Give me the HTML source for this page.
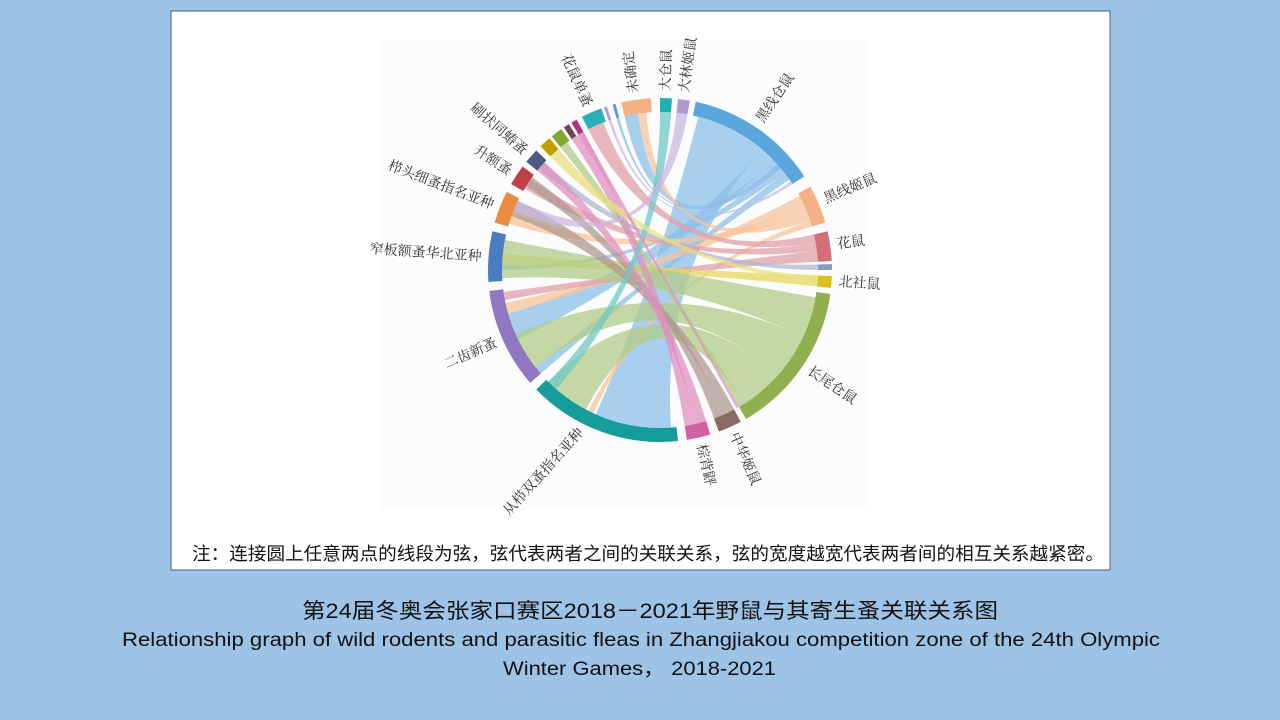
<!DOCTYPE html>
<html><head><meta charset="utf-8"><style>
html,body{margin:0;padding:0;background:#9dc3e6;}
svg{display:block}
</style></head><body>
<svg id="s" width="1280" height="720" viewBox="0 0 1280 720" xmlns="http://www.w3.org/2000/svg">
<rect width="1280" height="720" fill="#9dc3e6"/>
<rect x="171" y="11" width="939" height="559" fill="#fff" stroke="#41628f" stroke-width="1"/>
<rect x="380" y="40" width="490" height="470" fill="#fcfcfc"/>
<g id="chords"></g>
<g id="arcs"></g>
<g id="labels" font-family="'Liberation Serif','Noto Serif CJK SC',serif" font-size="14" fill="#333"></g>
<text x="192" y="560" font-family="'Liberation Sans','Noto Sans CJK SC',sans-serif" font-size="18" fill="#111" textLength="912" lengthAdjust="spacingAndGlyphs">注：连接圆上任意两点的线段为弦，弦代表两者之间的关联关系，弦的宽度越宽代表两者间的相互关系越紧密。</text>
<g font-family="'Liberation Sans','Noto Sans CJK SC',sans-serif" fill="#111">
<text x="302" y="618" font-size="21" textLength="696" lengthAdjust="spacingAndGlyphs">第24届冬奥会张家口赛区2018－2021年野鼠与其寄生蚤关联关系图</text>
<text x="122" y="646" font-size="19" textLength="1038" lengthAdjust="spacingAndGlyphs">Relationship graph of wild rodents and parasitic fleas in Zhangjiakou competition zone of the 24th Olympic</text>
<text x="503" y="675" font-size="19" textLength="273" lengthAdjust="spacingAndGlyphs">Winter Games，  2018-2021</text>
</g>
</svg>
<script>
var cx=660,cy=270,R1=158,R2=172,NS="http://www.w3.org/2000/svg";
function pt(a,r){var t=(a-90)*Math.PI/180;return [cx+r*Math.cos(t),cy+r*Math.sin(t)];}
function el(tag,at,par){var e=document.createElementNS(NS,tag);for(var k in at)e.setAttribute(k,at[k]);document.getElementById(par).appendChild(e);return e;}
var arcs=[[12,57,"#5ba6dd"],[61,74,"#f4b183"],[77,87,"#d2707a"],[88,90,"#8a9ab8"],[92,96,"#d9c020"],[98,150,"#8fb04e"],[152,160,"#8c6a64"],[163,171,"#d060a0"],[174,226,"#179c9c"],[229,263,"#9078c0"],[266,283,"#4a7cc4"],[286,297,"#ec8a40"],[300,307,"#c0404a"],[309,314,"#4a5a80"],[316,320,"#c0a000"],[321,325,"#80a830"],[326,328,"#704850"],[329,331,"#b03080"],[333,340,"#2ab0b8"],[341,342,"#b0a0d8"],[344,345,"#5a9ae0"],[347,357,"#f4b183"],[0,4,"#20b0b0"],[6,10,"#b098d0"]];
arcs.forEach(function(a){var p0=pt(a[0],R2),p1=pt(a[1],R2),p2=pt(a[1],R1),p3=pt(a[0],R1);
el("path",{d:"M"+p0+"A"+R2+","+R2+" 0 0 1 "+p1+"L"+p2+"A"+R1+","+R1+" 0 0 0 "+p3+"Z",fill:a[2]},"arcs");});
var ch=[[14,40,176,204,"#8ec0ea"],[40,46,244,254,"#8ec0ea"],[46,49,347,352,"#8ec0ea"],[49,52,270,272,"#8ec0ea"],[52,55,229,232,"#8ec0ea"],
[62,66,254,258,"#f8c49c"],[66,69,287,291,"#f8c49c"],[69,72,352,355,"#f8c49c"],[72,74,205,207,"#f8c49c"],
[77,80,333,339,"#e0a0a8"],[80,83,301,305,"#e0a0a8"],[83,87,259,262,"#e0a0a8"],[88,90,310,313,"#b0b8d0"],[92,96,272,276,"#e8d860"],
[100,115,267,281,"#b0cc88"],[115,132,232,246,"#b0cc88"],[132,148,208,225,"#b0cc88"],[148,150,321,324,"#b0cc88"],
[152,156,290,296,"#b09890"],[156,160,302,306,"#b09890"],[163,167,309,313,"#e090c0"],[167,171,326,331,"#e090c0"],
[0,4,221,225,"#70c8c8"],[6,10,292,296,"#c8b8e0"],[344,345,48,50,"#90b8e8"],[341,342,56,57,"#c8b8e0"],[316,320,92,94,"#e8e080"],[329,331,150,151,"#e090c0"]];
ch.forEach(function(c){var a0=pt(c[0],R1),a1=pt(c[1],R1),b0=pt(c[2],R1),b1=pt(c[3],R1),C=cx+","+cy;
el("path",{d:"M"+a0+"A"+R1+","+R1+" 0 0 1 "+a1+"Q"+C+" "+b0+"A"+R1+","+R1+" 0 0 1 "+b1+"Q"+C+" "+a0+"Z",fill:c[4],"fill-opacity":0.75},"chords");});
var lb=[["黑线仓鼠",34,0],["黑线姬鼠",67,0],["花鼠",82,0],["北社鼠",94,0],["长尾仓鼠",124,0],["中华姬鼠",156,0],["棕背䶄",167,0],["从栉双蚤指名亚种",206,1,-48],["二齿新蚤",246,1],["窄板额蚤华北亚种",274,1],["栉头细蚤指名亚种",291,1],["升额蚤",303,1],["刷状同蝽蚤",311,1],["花鼠单蚤",336,1],["未确定",352,0],["大仓鼠",2,0],["大林姬鼠",8,0]];
lb.forEach(function(l){var p=pt(l[1],179),t;
if(l[2]==0){t=el("text",{x:p[0],y:p[1],transform:"rotate("+(l[1]-90)+" "+p[0]+" "+p[1]+")","dominant-baseline":"central"},"labels");}
else{var r=(l[3]!==undefined)?l[3]:(l[1]-270);t=el("text",{x:p[0],y:p[1],transform:"rotate("+r+" "+p[0]+" "+p[1]+")","text-anchor":"end","dominant-baseline":"central"},"labels");}
t.textContent=l[0];});
</script>
</body></html>
